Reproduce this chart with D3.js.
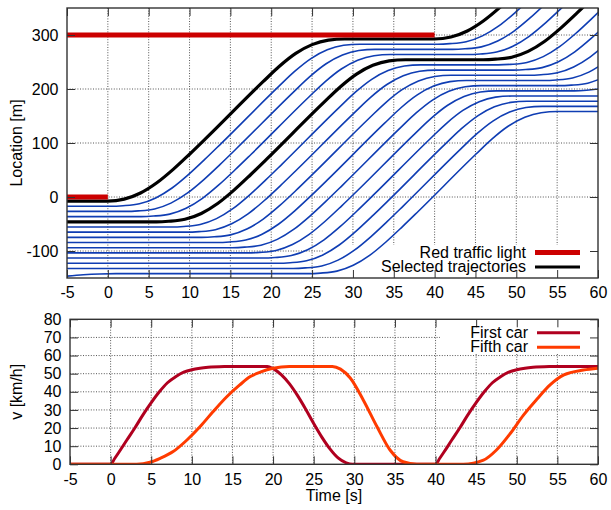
<!DOCTYPE html>
<html><head><meta charset="utf-8">
<script src="https://cdn.jsdelivr.net/npm/d3@7"></script>
<style>
body{margin:0;background:#fff;}
svg text{font-family:"Liberation Sans",Arial,sans-serif;fill:#000;}
</style></head><body><svg id="chart" width="611" height="510"></svg>
<script>
// ---------- data ----------
const timeTicks = [-5,0,5,10,15,20,25,30,35,40,45,50,55,60];
const locationTicks = [-100,0,100,200,300];
const speedTicks = [0,10,20,30,40,50,60,70,80];
const redLightPositions = [0, 300];
const redLightStart = [-5, -5];
const redLightEnd = [0, 40];
const selectedCars = [0, 4];
const topLegendLabels = ["Red traffic light", "Selected trajectories"];
const bottomLegendLabels = ["First car", "Fifth car"];

const carTrajectories = [
 [[-5,-7.5],[0,-7.5],[2,-3.9],[4,7.4],[6,26.3],[8,51.1],[10,79.2],[12,108.5],[19,213.5],[21,242.1],[23,265.9],[25,282.2],[27,290.5],[29,292.6],[40,292.6],[42,296.3],[44,307.5],[46,326.4],[48,351.2],[50,379.3]],
 [[-5,-17.1],[0.36,-17.1],[1.86,-16.1],[3.86,-12.5],[5.86,-1.7],[7.86,16.7],[9.86,41.5],[11.86,69.6],[13.86,98.9],[20.86,203.9],[22.86,232.5],[24.86,256.3],[26.86,272.6],[28.86,280.9],[30.86,283.0],[40.36,283.0],[41.86,284.0],[43.86,287.6],[45.86,298.4],[47.86,316.8],[49.86,341.6],[51.86,369.7]],
 [[-5,-26.7],[2.22,-26.7],[3.72,-25.7],[5.72,-22.1],[7.72,-11.3],[9.72,7.1],[11.72,31.9],[13.72,60.0],[15.72,89.3],[22.72,194.3],[24.72,222.9],[26.72,246.7],[28.72,263.0],[30.72,271.3],[32.72,273.4],[42.22,273.4],[43.72,274.4],[45.72,278.0],[47.72,288.8],[49.72,307.2],[51.72,332.0],[53.72,360.1]],
 [[-5,-36.3],[4.08,-36.3],[5.58,-35.3],[7.58,-31.7],[9.58,-20.9],[11.58,-2.5],[13.58,22.3],[15.58,50.4],[17.58,79.7],[24.58,184.7],[26.58,213.3],[28.58,237.1],[30.58,253.4],[32.58,261.7],[34.58,263.8],[44.08,263.8],[45.58,264.8],[47.58,268.4],[49.58,279.2],[51.58,297.6],[53.58,322.4],[55.58,350.5],[57.58,379.8]],
 [[-5,-45.9],[5.94,-45.9],[7.44,-44.9],[9.44,-41.3],[11.44,-30.5],[13.44,-12.1],[15.44,12.7],[17.44,40.8],[19.44,70.1],[26.44,175.1],[28.44,203.7],[30.44,227.5],[32.44,243.8],[34.44,252.1],[36.44,254.2],[45.94,254.2],[47.44,255.2],[49.44,258.8],[51.44,269.6],[53.44,288.0],[55.44,312.8],[57.44,340.9],[59.44,370.2]],
 [[-5,-55.5],[7.8,-55.5],[9.3,-54.5],[11.3,-50.9],[13.3,-40.1],[15.3,-21.7],[17.3,3.1],[19.3,31.2],[21.3,60.5],[28.3,165.5],[30.3,194.1],[32.3,217.9],[34.3,234.2],[36.3,242.5],[38.3,244.6],[47.8,244.6],[49.3,245.6],[51.3,249.2],[53.3,260.0],[55.3,278.4],[57.3,303.2],[59.3,331.3],[61.3,360.6]],
 [[-5,-65.1],[9.66,-65.1],[11.16,-64.1],[13.16,-60.5],[15.16,-49.7],[17.16,-31.3],[19.16,-6.5],[21.16,21.6],[23.16,50.9],[30.16,155.9],[32.16,184.5],[34.16,208.3],[36.16,224.6],[38.16,232.9],[40.16,235.0],[49.66,235.0],[51.16,236.0],[53.16,239.6],[55.16,250.4],[57.16,268.8],[59.16,293.6],[61.16,321.7]],
 [[-5,-74.7],[11.52,-74.7],[13.02,-73.7],[15.02,-70.1],[17.02,-59.3],[19.02,-40.9],[21.02,-16.1],[23.02,12.0],[25.02,41.3],[32.02,146.3],[34.02,174.9],[36.02,198.7],[38.02,215.0],[40.02,223.3],[42.02,225.4],[51.52,225.4],[53.02,226.4],[55.02,230.0],[57.02,240.8],[59.02,259.2],[61.02,284.0]],
 [[-5,-84.3],[13.38,-84.3],[14.88,-83.3],[16.88,-79.7],[18.88,-68.9],[20.88,-50.5],[22.88,-25.7],[24.88,2.4],[26.88,31.7],[33.88,136.7],[35.88,165.3],[37.88,189.1],[39.88,205.4],[41.88,213.7],[43.88,215.8],[53.38,215.8],[54.88,216.8],[56.88,220.4],[58.88,231.2],[60.88,249.6]],
 [[-5,-93.9],[15.24,-93.9],[16.74,-92.9],[18.74,-89.3],[20.74,-78.5],[22.74,-60.1],[24.74,-35.3],[26.74,-7.2],[28.74,22.1],[35.74,127.1],[37.74,155.7],[39.74,179.5],[41.74,195.8],[43.74,204.1],[45.74,206.2],[55.24,206.2],[56.74,207.2],[58.74,210.8],[60.74,221.6]],
 [[-5,-103.5],[17.1,-103.5],[18.6,-102.5],[20.6,-98.9],[22.6,-88.1],[24.6,-69.7],[26.6,-44.9],[28.6,-16.8],[30.6,12.5],[37.6,117.5],[39.6,146.1],[41.6,169.9],[43.6,186.2],[45.6,194.5],[47.6,196.6],[57.1,196.6],[58.6,197.6],[60.6,201.2]],
 [[-5,-113.1],[18.96,-113.1],[20.46,-112.1],[22.46,-108.5],[24.46,-97.7],[26.46,-79.3],[28.46,-54.5],[30.46,-26.4],[32.46,2.9],[39.46,107.9],[41.46,136.5],[43.46,160.3],[45.46,176.6],[47.46,184.9],[49.46,187.0],[60,187.0]],
 [[-5,-122.7],[20.82,-122.7],[22.32,-121.7],[24.32,-118.1],[26.32,-107.3],[28.32,-88.9],[30.32,-64.1],[32.32,-36.0],[34.32,-6.7],[41.32,98.3],[43.32,126.9],[45.32,150.7],[47.32,167.0],[49.32,175.3],[51.32,177.4],[60,177.4]],
 [[-5,-132.3],[22.68,-132.3],[24.18,-131.3],[26.18,-127.7],[28.18,-116.9],[30.18,-98.5],[32.18,-73.7],[34.18,-45.6],[36.18,-16.3],[43.18,88.7],[45.18,117.3],[47.18,141.1],[49.18,157.4],[51.18,165.7],[53.18,167.8],[60,167.8]],
 [[-5,-146.5],[-3,-144.0],[-1,-142.5],[1,-141.9],[24.54,-141.9],[26.04,-140.9],[28.04,-137.3],[30.04,-126.5],[32.04,-108.1],[34.04,-83.3],[36.04,-55.2],[38.04,-25.9],[45.04,79.1],[47.04,107.7],[49.04,131.5],[51.04,147.8],[53.04,156.1],[55.04,158.2],[60,158.2]]
];

const firstCarSpeed = [[-5,0],[0,0],[0.5,3.2],[1,6.5],[2,13.4],[3,20.2],[4,27.4],[5,34],[6,40],[7,45],[8,48.3],[9,50.8],[10,52.2],[11,53],[12,53.5],[14,53.9],[16,54],[19.3,54],[20,52.8],[21,49.5],[22,44.5],[23,38],[24,30.5],[25,22.5],[26,15],[27,8.5],[28,3.5],[29,0.8],[29.8,0],[40,0],[40.5,3.2],[41,6.5],[42,13.4],[43,20.2],[44,27.4],[45,34],[46,40],[47,45],[48,48.3],[49,50.8],[50,52.2],[51,53],[52,53.5],[54,53.9],[56,54],[60,54]];
const fifthCarSpeed = [[-5,0],[3.2,0],[4.85,1.1],[6.1,3.3],[7.7,7],[9.4,13.4],[11,20.7],[12.6,29],[14.3,37.3],[15.9,43.8],[17.2,48.4],[18.5,51],[20,53],[22,54],[27.3,54],[28.3,52.5],[29.5,47.6],[31.1,35.5],[32.8,20.7],[34.4,7.9],[36,1.4],[37.7,0],[43.4,0],[45.9,2.3],[47.5,7.9],[49.2,17],[50.8,27],[52.5,36],[54.1,43.8],[55.8,49.3],[58.2,52],[60,53]];

// ---------- layout ----------
const svg = d3.select("#chart");
const FONT = 16;
const P1 = {l:67, r:598, t:8, b:278};
const P2 = {l:70, r:598, t:319.3, b:464.3};
const colors = {blue:"#0f3db3", black:"#000", red:"#cc0000", first:"#b0001f", fifth:"#ff3b00", grid:"#555", border:"#333"};

const x1 = d3.scaleLinear().domain([-5,60]).range([P1.l,P1.r]);
const y1 = d3.scaleLinear().domain([-150,350]).range([P1.b,P1.t]);
const x2 = d3.scaleLinear().domain([-5,60]).range([P2.l,P2.r]);
const y2 = d3.scaleLinear().domain([0,80]).range([P2.b,P2.t]);

const defs = svg.append("defs");
defs.append("clipPath").attr("id","c1").append("rect").attr("x",P1.l).attr("y",P1.t).attr("width",P1.r-P1.l).attr("height",P1.b-P1.t);
defs.append("clipPath").attr("id","c2").append("rect").attr("x",P2.l).attr("y",P2.t).attr("width",P2.r-P2.l).attr("height",P2.b-P2.t);

// grid (interrupted by the key box like in gnuplot)
function grid(P, xs, ys, xt, yt, key){
  const g = svg.append("g").attr("stroke",colors.grid).attr("stroke-width",1).attr("stroke-dasharray","1,1.6");
  xt.forEach(v=>{ const px=xs(v); if(px<=P.l+1||px>=P.r-1) return;
    const inKey = px>key.x0;
    const ya = (inKey && key.y0<=P.t+1) ? key.y1 : P.t;
    const yb = (inKey && key.y0>P.t+1) ? key.y0 : P.b;
    g.append("line").attr("x1",px).attr("x2",px).attr("y1",ya).attr("y2",yb); });
  yt.forEach(v=>{ const py=ys(v); if(py<=P.t+1||py>=P.b-1) return;
    const inKey = (py>key.y0 && py<key.y1);
    g.append("line").attr("y1",py).attr("y2",py).attr("x1",P.l).attr("x2", inKey? key.x0 : P.r); });
}
grid(P1, x1, y1, timeTicks, locationTicks, {x0:323, y0:245, y1:P1.b});
grid(P2, x2, y2, timeTicks, speedTicks, {x0:440, y0:P2.t, y1:354});

// ---------- top panel lines ----------
const line1 = d3.line().x(d=>x1(d[0])).y(d=>y1(d[1])).curve(d3.curveMonotoneX);
const gTop = svg.append("g").attr("clip-path","url(#c1)");
gTop.selectAll("path.car").data(carTrajectories.filter((d,i)=>!selectedCars.includes(i)))
  .join("path").attr("class","car").attr("d",line1).attr("fill","none")
  .attr("stroke",colors.blue).attr("stroke-width",1.6);
gTop.selectAll("path.sel").data(selectedCars.map(i=>carTrajectories[i]))
  .join("path").attr("class","sel").attr("d",line1).attr("fill","none")
  .attr("stroke",colors.black).attr("stroke-width",3.2);
gTop.selectAll("line.red").data(redLightPositions).join("line").attr("class","red")
  .attr("x1",(d,i)=>x1(redLightStart[i])).attr("x2",(d,i)=>x1(redLightEnd[i]))
  .attr("y1",d=>y1(d)).attr("y2",d=>y1(d)).attr("stroke",colors.red).attr("stroke-width",5);

// ---------- bottom panel lines ----------
const line2 = d3.line().x(d=>x2(d[0])).y(d=>y2(d[1])).curve(d3.curveMonotoneX);
const gBot = svg.append("g").attr("clip-path","url(#c2)");
gBot.append("path").datum(firstCarSpeed).attr("d",line2).attr("fill","none").attr("stroke",colors.first).attr("stroke-width",3);
gBot.append("path").datum(fifthCarSpeed).attr("d",line2).attr("fill","none").attr("stroke",colors.fifth).attr("stroke-width",3);

// ---------- axes ----------
const fmt = d => String(d);
function styleAxis(g){ g.select(".domain").remove(); g.selectAll("text").attr("font-size",FONT).attr("font-family","Liberation Sans, Arial, sans-serif").attr("fill","#000");
  g.selectAll(".tick line").attr("stroke",colors.border).attr("stroke-width",1); }
function axes(P, xs, ys, yt, padX){
  svg.append("g").attr("transform",`translate(0,${P.b})`).call(d3.axisBottom(xs).tickValues(timeTicks).tickFormat(fmt).tickSizeInner(-8).tickSizeOuter(0).tickPadding(padX)).call(styleAxis);
  svg.append("g").attr("transform",`translate(0,${P.t})`).call(d3.axisTop(xs).tickValues(timeTicks).tickSizeInner(-8).tickSizeOuter(0).tickFormat("")).call(styleAxis);
  svg.append("g").attr("transform",`translate(${P.l},0)`).call(d3.axisLeft(ys).tickValues(yt).tickFormat(fmt).tickSizeInner(-8).tickSizeOuter(0).tickPadding(8.5)).call(styleAxis);
  svg.append("g").attr("transform",`translate(${P.r},0)`).call(d3.axisRight(ys).tickValues(yt).tickSizeInner(-8).tickSizeOuter(0).tickFormat("")).call(styleAxis);
  svg.append("rect").attr("x",P.l).attr("y",P.t).attr("width",P.r-P.l).attr("height",P.b-P.t).attr("fill","none").attr("stroke",colors.border).attr("stroke-width",1.4);
}
axes(P1, x1, y1, locationTicks, 8.5);
axes(P2, x2, y2, speedTicks, 9);

svg.append("text").attr("transform",`translate(22,${(P1.t+P1.b)/2}) rotate(-90)`).attr("text-anchor","middle").attr("font-size",FONT).text("Location [m]");
svg.append("text").attr("transform",`translate(22,${(P2.t+P2.b)/2}) rotate(-90)`).attr("text-anchor","middle").attr("font-size",FONT).text("v [km/h]");
svg.append("text").attr("x",(P2.l+P2.r)/2).attr("y",501).attr("text-anchor","middle").attr("font-size",FONT).text("Time [s]");

// ---------- legends ----------
function legend(labels, strokes, widths, textX, lx0, lx1, y0, dy){
  labels.forEach((lab,i)=>{
    const y = y0 + i*dy;
    svg.append("text").attr("x",textX).attr("y",y+5).attr("text-anchor","end").attr("font-size",FONT).text(lab);
    svg.append("line").attr("x1",lx0).attr("x2",lx1).attr("y1",y).attr("y2",y).attr("stroke",strokes[i]).attr("stroke-width",widths[i]);
  });
}
legend(topLegendLabels, [colors.red, colors.black], [5, 3.2], 526, 535, 580, 252.5, 14.5);
legend(bottomLegendLabels, [colors.first, colors.fifth], [3, 3], 528, 537, 580, 332.7, 14.5);
</script></body></html>
